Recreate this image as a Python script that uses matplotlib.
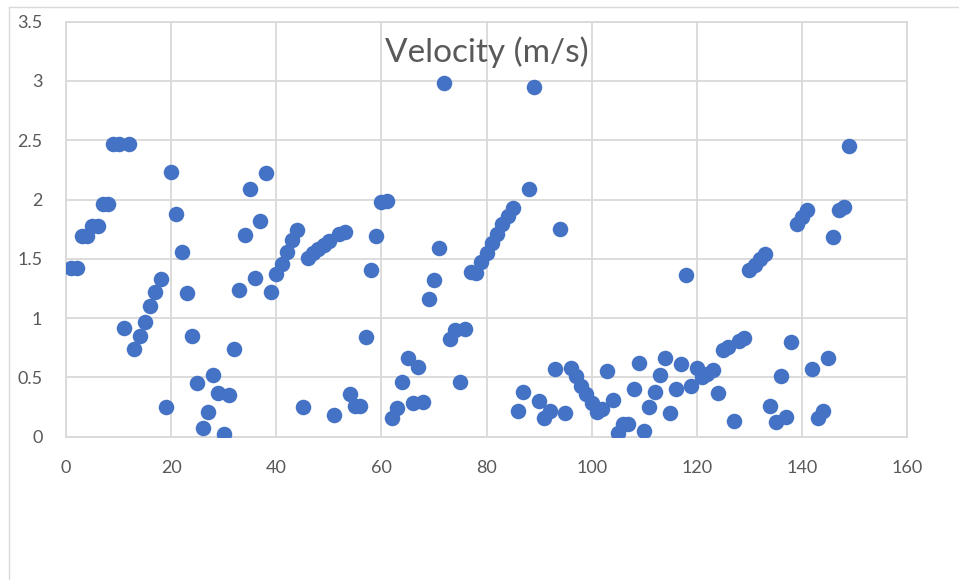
import matplotlib
matplotlib.use("Agg")
import matplotlib.pyplot as plt
from matplotlib.lines import Line2D

# sample index and measured velocity (m/s)
sample = list(range(1, 150))
velocity = [
    1.42, 1.42, 1.69, 1.69, 1.78, 1.78, 1.96, 1.96, 2.47, 2.47,
    0.92, 2.47, 0.74, 0.85, 0.97, 1.10, 1.22, 1.33, 0.25, 2.23,
    1.88, 1.56, 1.21, 0.85, 0.45, 0.07, 0.21, 0.52, 0.37, 0.02,
    0.35, 0.74, 1.24, 1.70, 2.09, 1.34, 1.82, 2.22, 1.22, 1.37,
    1.46, 1.56, 1.66, 1.74, 0.25, 1.51, 1.55, 1.58, 1.62, 1.65,
    0.18, 1.71, 1.73, 0.36, 0.26, 0.26, 0.84, 1.41, 1.69, 1.98,
    1.99, 0.16, 0.24, 0.46, 0.66, 0.28, 0.59, 0.29, 1.16, 1.32,
    1.59, 2.98, 0.82, 0.90, 0.46, 0.91, 1.39, 1.38, 1.47, 1.55,
    1.63, 1.71, 1.79, 1.86, 1.93, 0.22, 0.38, 2.09, 2.95, 0.30,
    0.16, 0.22, 0.57, 1.75, 0.20, 0.58, 0.51, 0.43, 0.36, 0.28,
    0.21, 0.23, 0.55, 0.31, 0.03, 0.11, 0.11, 0.40, 0.62, 0.05,
    0.25, 0.38, 0.52, 0.66, 0.20, 0.40, 0.61, 1.36, 0.43, 0.58,
    0.50, 0.53, 0.56, 0.37, 0.73, 0.76, 0.13, 0.81, 0.83, 1.41,
    1.45, 1.50, 1.54, 0.26, 0.12, 0.51, 0.17, 0.80, 1.79, 1.85,
    1.91, 0.57, 0.16, 0.22, 0.66, 1.68, 1.91, 1.94, 2.45,
]
x_ticks = [0, 20, 40, 60, 80, 100, 120, 140, 160]
y_ticks = [0, 0.5, 1, 1.5, 2, 2.5, 3, 3.5]
y_labels = ["0", "0.5", "1", "1.5", "2", "2.5", "3", "3.5"]

plt.rcParams["font.family"] = ["Lato", "DejaVu Sans"]
grid_c = "#D9D9D9"
text_c = "#595959"

fig = plt.figure(figsize=(9.59, 5.80), dpi=100)
ax = fig.add_axes([66 / 959, 1 - 436.7 / 580, 841 / 959, 415 / 580])

ax.scatter(sample, velocity, s=125, color="#4472C4", zorder=3, linewidths=0)

ax.set_xlim(0, 160)
ax.set_ylim(0, 3.5)
ax.set_xticks(x_ticks)
ax.set_yticks(y_ticks)
ax.set_yticklabels(y_labels)
ax.grid(True, color=grid_c, lw=1.3)
ax.set_axisbelow(True)
for sp in ax.spines.values():
    sp.set_color(grid_c)
    sp.set_linewidth(1.3)
ax.tick_params(length=0, labelsize=13, labelcolor=text_c)
ax.tick_params(axis="x", pad=17)
ax.tick_params(axis="y", pad=17)

ax.text(0.5, 1 - (51.7 - 21.7) / 415, "Velocity (m/s)", transform=ax.transAxes,
        ha="center", va="center", fontsize=24, color=text_c, zorder=4)

# chart-area border (partly cropped in the original screenshot)
fig.add_artist(Line2D([9 / 959, 9 / 959], [0, 1 - 7 / 580], color=grid_c, lw=1))
fig.add_artist(Line2D([9 / 959, 1], [1 - 7 / 580, 1 - 7 / 580], color=grid_c, lw=1))

fig.savefig("out.png", dpi=100)
